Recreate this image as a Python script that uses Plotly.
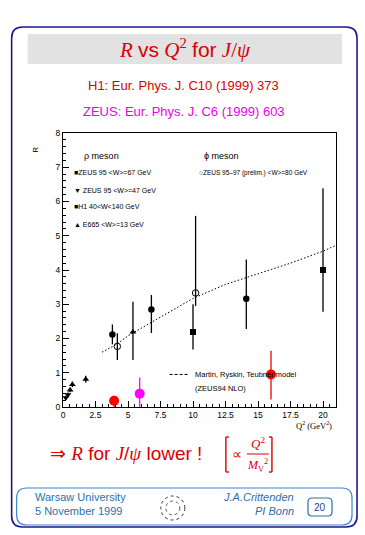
import plotly.graph_objects as go

# ---------------- data ----------------
# ZEUS 95 rho, <W>=67 GeV (filled circles)
zeus95_q2 = [3.8, 6.8, 14.1]
zeus95_r = [2.12, 2.85, 3.16]
zeus95_up = [0.29, 0.42, 1.15]
zeus95_dn = [0.29, 0.69, 0.88]

# ZEUS 95 rho, <W>=47 GeV (down triangles, low Q2)
zeus47_q2 = [0.22, 0.38]
zeus47_r = [0.27, 0.36]
zeus47_err = [0.06, 0.06]

# H1 rho (filled squares)
h1rho_q2 = [10.0, 20.0]
h1rho_r = [2.19, 4.0]
h1rho_up = [0.81, 2.39]
h1rho_dn = [0.51, 1.22]

# E665 rho (up triangles)
e665_q2 = [0.55, 0.72, 1.75, 5.38]
e665_r = [0.5, 0.66, 0.81, 2.19]
e665_up = [0.07, 0.08, 0.1, 0.88]
e665_dn = [0.07, 0.08, 0.1, 0.82]

# ZEUS 95-97 phi (open circles)
zphi_q2 = [4.18, 10.2]
zphi_r = [1.77, 3.33]
zphi_up = [0.38, 2.25]
zphi_dn = [0.4, 0.38]

# J/psi: H1 (red), ZEUS (magenta)
h1jpsi_q2 = [3.93, 16.0]
h1jpsi_r = [0.18, 0.95]
h1jpsi_up = [0.15, 0.69]
h1jpsi_dn = [0.18, 0.73]

zjpsi_q2 = [5.9]
zjpsi_r = [0.39]
zjpsi_up = [0.47]
zjpsi_dn = [0.5]

# Martin, Ryskin, Teubner model
model_q2 = [3.0, 4.2, 5.0, 7.5, 10.0, 12.5, 15.0, 17.5, 20.0, 21.0]
model_r = [1.6, 1.85, 2.08, 2.62, 3.17, 3.58, 3.88, 4.2, 4.55, 4.72]

x_ticks = [0, 2.5, 5, 7.5, 10, 12.5, 15, 17.5, 20]
x_tick_labels = ["0", "2.5", "5", "7.5", "10", "12.5", "15", "17.5", "20"]
y_ticks = [0, 1, 2, 3, 4, 5, 6, 7, 8]

# ---------------- layout helpers ----------------
W, H = 365, 535
L, R, T, B = 63.3, 336.0, 133.0, 407.0


def px(x):
    return (x - L) / (R - L)


def py(y):
    return (B - y) / (B - T)


def err(up, dn, color, th=1.3):
    return dict(type="data", symmetric=False, array=up, arrayminus=dn,
                color=color, thickness=th, width=0)


fig = go.Figure()

fig.add_trace(go.Scatter(x=model_q2, y=model_r, mode="lines",
                         line=dict(color="black", width=1, dash="1.5px,2px"),
                         hoverinfo="skip"))

fig.add_trace(go.Scatter(x=zeus95_q2, y=zeus95_r, mode="markers",
                         marker=dict(symbol="circle", size=6.5, color="black"),
                         error_y=err(zeus95_up, zeus95_dn, "black")))
fig.add_trace(go.Scatter(x=zeus47_q2, y=zeus47_r, mode="markers",
                         marker=dict(symbol="triangle-down", size=6, color="black"),
                         error_y=err(zeus47_err, zeus47_err, "black")))
fig.add_trace(go.Scatter(x=h1rho_q2, y=h1rho_r, mode="markers",
                         marker=dict(symbol="square", size=6, color="black"),
                         error_y=err(h1rho_up, h1rho_dn, "black")))
fig.add_trace(go.Scatter(x=e665_q2, y=e665_r, mode="markers",
                         marker=dict(symbol="triangle-up", size=6, color="black"),
                         error_y=err(e665_up, e665_dn, "black")))
fig.add_trace(go.Scatter(x=zphi_q2, y=zphi_r, mode="markers",
                         marker=dict(symbol="circle-open", size=6.5, color="black",
                                     line=dict(width=1)),
                         error_y=err(zphi_up, zphi_dn, "black")))
fig.add_trace(go.Scatter(x=h1jpsi_q2, y=h1jpsi_r, mode="markers",
                         marker=dict(symbol="circle", size=10, color="#ff0000"),
                         error_y=err(h1jpsi_up, h1jpsi_dn, "#ee0000", 1.3)))
fig.add_trace(go.Scatter(x=zjpsi_q2, y=zjpsi_r, mode="markers",
                         marker=dict(symbol="circle", size=10, color="#ff00ff"),
                         error_y=err(zjpsi_up, zjpsi_dn, "#ff00ff", 1.3)))

# legend line segment for model
fig.add_trace(go.Scatter(x=[8.2, 9.6], y=[0.95, 0.95], mode="lines",
                         line=dict(color="black", width=1, dash="3px,2px"),
                         hoverinfo="skip"))

axis_font = dict(family="Liberation Sans, Arial, sans-serif", size=8.5, color="black")

fig.update_xaxes(range=[0, 21], tickvals=x_ticks, ticktext=x_tick_labels,
                 ticks="inside", ticklen=6, tickwidth=1, tickcolor="black",
                 minor=dict(dtick=0.5, ticks="inside", ticklen=3, tickcolor="black"),
                 showline=True, linecolor="black", linewidth=1, mirror=True,
                 showgrid=False, zeroline=False, tickfont=axis_font)
fig.update_yaxes(range=[0, 8], tickvals=y_ticks,
                 ticks="inside", ticklen=6, tickwidth=1, tickcolor="black",
                 minor=dict(dtick=0.2, ticks="inside", ticklen=3, tickcolor="black"),
                 showline=True, linecolor="black", linewidth=1, mirror=True,
                 showgrid=False, zeroline=False, tickfont=axis_font)

sans = "Liberation Sans, Arial, sans-serif"
serif = "Liberation Serif, Times New Roman, serif"
ann = []


def txt(x, y, s, size, color="black", xanchor="center", family=sans, **kw):
    ann.append(dict(xref="paper", yref="paper", x=px(x), y=py(y), text=s,
                    showarrow=False, xanchor=xanchor, yanchor="middle",
                    font=dict(family=family, size=size, color=color), **kw))


# in-plot legend texts
small = 7
txt(101.5, 156, "ρ meson", 9)
txt(222, 156, "ϕ meson", 9)
txt(72, 172.7, "■ZEUS 95 &lt;W&gt;=67 GeV", small, xanchor="left")
txt(72, 190, "▼ ZEUS 95 &lt;W&gt;=47 GeV", small, xanchor="left")
txt(72, 206.7, "■H1 40&lt;W&lt;140 GeV", small, xanchor="left")
txt(72, 224, "▲ E665 &lt;W&gt;=13 GeV", small, xanchor="left")
txt(197, 172.7, "○ZEUS 95–97 (prelim.) &lt;W&gt;=80 GeV", 6.5, xanchor="left")
txt(193, 374.5, "Martin, Ryskin, Teubner model", 7.5, xanchor="left")
txt(193, 388.5, "(ZEUS94 NLO)", 7.5, xanchor="left")

# axis titles
txt(35, 150, "R", 8, textangle=-90)
txt(314, 425, "Q<sup>2</sup> (GeV<sup>2</sup>)", 8.5, family=serif)

# header
txt(185, 49, "<i>R</i> <span style='font-family:Liberation Sans'>vs</span> <i>Q</i><sup>2</sup>"
    " <span style='font-family:Liberation Sans'>for</span> <i>J</i>/<i>ψ</i>",
    21, color="#dd0000", family=serif)
txt(184, 86, "H1: Eur. Phys. J. C10 (1999) 373", 13, color="#dd0000")
txt(184, 111, "ZEUS: Eur. Phys. J. C6 (1999) 603", 13, color="#ee00ee")

# conclusion
txt(48, 453, "⇒ <i><span style='font-family:Liberation Serif'>R</span></i> for "
    "<i><span style='font-family:Liberation Serif'>J</span></i>/"
    "<i><span style='font-family:Liberation Serif'>ψ</span></i> lower !",
    19, color="#dd0000", xanchor="left")
txt(237, 454, "∝", 14, color="#dd0000", family=serif)
txt(258, 443, "<i>Q</i><sup>2</sup>", 13, color="#dd0000", family=serif)
txt(258, 465, "<i>M</i><sub>V</sub><sup>2</sup>", 12, color="#dd0000", family=serif)

# footer
foot = "#2a70b0"
txt(33, 497, "Warsaw University", 11, color=foot, xanchor="left")
txt(33, 511, "5 November 1999", 11, color=foot, xanchor="left")
txt(296, 497, "<i>J.A.Crittenden</i>", 11, color=foot, xanchor="right")
txt(296, 511, "<i>PI Bonn</i>", 11, color=foot, xanchor="right")
txt(320, 507, "20", 10, color="#1a4a90")

fig.layout.annotations = ann

shapes = []


def rect(x0, y0, x1, y1, **kw):
    shapes.append(dict(type="rect", xref="paper", yref="paper",
                       x0=px(x0), x1=px(x1), y0=py(y1), y1=py(y0), **kw))


def rounded(x0, y0, x1, y1, r, color, width):
    X0, X1 = px(x0), px(x1)
    Y0, Y1 = py(y1), py(y0)
    rx = r / (R - L)
    ry = r / (B - T)
    path = (f"M {X0 + rx},{Y1} L {X1 - rx},{Y1} Q {X1},{Y1} {X1},{Y1 - ry} "
            f"L {X1},{Y0 + ry} Q {X1},{Y0} {X1 - rx},{Y0} L {X0 + rx},{Y0} "
            f"Q {X0},{Y0} {X0},{Y0 + ry} L {X0},{Y1 - ry} Q {X0},{Y1} {X0 + rx},{Y1} Z")
    shapes.append(dict(type="path", xref="paper", yref="paper", path=path,
                       line=dict(color=color, width=width), layer="below"))


def seg(x0, y0, x1, y1, color, width, dash="solid"):
    shapes.append(dict(type="line", xref="paper", yref="paper",
                       x0=px(x0), x1=px(x1), y0=py(y0), y1=py(y1),
                       line=dict(color=color, width=width, dash=dash)))


rounded(12, 27, 357, 527, 11, "#1a1a8a", 1.6)
rect(28, 34, 342, 64, fillcolor="#e2e2e2", line=dict(width=0), layer="below")
rounded(17, 488, 352, 525, 10, "#3a88c8", 1.2)
rounded(308, 498, 332, 516, 4, "#2a70b0", 1.2)

# bracket
red = "#dd0000"
seg(226, 437, 226, 472, red, 1.4)
seg(226, 437, 229, 437, red, 1.4)
seg(226, 472, 229, 472, red, 1.4)
seg(272, 437, 272, 472, red, 1.4)
seg(269, 437, 272, 437, red, 1.4)
seg(269, 472, 272, 472, red, 1.4)
seg(247, 454, 269, 454, red, 1)

# logo (dotted seal)
shapes.append(dict(type="circle", xref="paper", yref="paper",
                   x0=px(161), x1=px(185), y0=py(520), y1=py(496),
                   line=dict(color="#333333", width=1, dash="dot")))
shapes.append(dict(type="circle", xref="paper", yref="paper",
                   x0=px(166), x1=px(180), y0=py(515), y1=py(501),
                   line=dict(color="#555555", width=1, dash="dot")))

fig.layout.shapes = shapes

fig.update_layout(width=W, height=H, autosize=False, showlegend=False,
                  margin=dict(l=L, r=W - R, t=T, b=H - B, pad=0),
                  paper_bgcolor="white", plot_bgcolor="white")

fig.write_html("out.html")
